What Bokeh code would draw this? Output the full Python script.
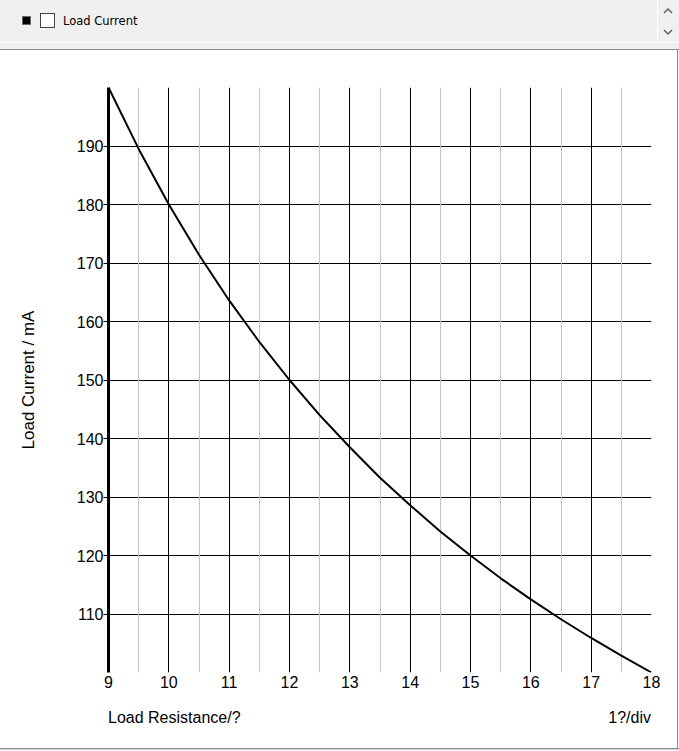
from bokeh.plotting import figure
from bokeh.models import Range1d, FixedTicker, Grid, Div
from bokeh.layouts import column, row
from bokeh.embed import file_html
from bokeh.resources import INLINE

# ---- data ----
resistance = [9, 9.5, 10, 10.5, 11, 11.5, 12, 12.5, 13, 13.5, 14, 14.5, 15, 15.5, 16, 16.5, 17, 17.5, 18]
current = [200, 189.5, 180, 171.4, 163.6, 156.5, 150, 144, 138.5, 133.3, 128.6, 124.1, 120, 116.1, 112.5, 109.1, 105.9, 102.9, 100]
x_major = [9, 10, 11, 12, 13, 14, 15, 16, 17, 18]
x_minor = [9.5, 10.5, 11.5, 12.5, 13.5, 14.5, 15.5, 16.5, 17.5]
y_major = [110, 120, 130, 140, 150, 160, 170, 180, 190]
x_limits = [9, 18]
y_limits = [100, 200]
series_name = "Load Current"
x_title = "Load Resistance/?"
x_scale_note = "1?/div"
y_title = "Load Current / mA"

FONT = "Liberation Sans"
BORDER = "#8a8a8a"

# ---- header (legend bar) ----
header_html = f"""
<div style="position:relative;width:679px;height:50px;background:#ffffff;font-family:'DejaVu Sans';overflow:hidden;">
  <div style="position:absolute;left:0;top:0;width:679px;height:42px;background:#f0f0f0;"></div>
  <div style="position:absolute;left:0;top:43px;width:679px;height:6px;background:#f0f0f0;"></div>
  <div style="position:absolute;left:657px;top:0;width:1px;height:42px;background:#ffffff;"></div>
  <div style="position:absolute;left:22px;top:16px;width:9px;height:9px;background:#000;border:1px solid #666;"></div>
  <div style="position:absolute;left:40px;top:13px;width:15px;height:15px;background:#fff;border:1px solid #444;"></div>
  <div style="position:absolute;left:63px;top:14px;font-size:11.5px;color:#000;line-height:15px;white-space:nowrap;">{series_name}</div>
  <svg style="position:absolute;left:662px;top:5px;" width="12" height="32">
    <polyline points="2,8 6,4 10,8" fill="none" stroke="#606060" stroke-width="1.5"/>
    <polyline points="2,25 6,29 10,25" fill="none" stroke="#606060" stroke-width="1.5"/>
  </svg>
  <div style="position:absolute;left:0;top:49px;width:679px;height:1px;background:{BORDER};"></div>
</div>
"""
header = Div(text=header_html, width=679, height=50, margin=(0, 0, 0, 0))

# ---- chart ----
p = figure(width=677, height=647, output_backend="svg", toolbar_location=None,
           x_range=Range1d(*x_limits), y_range=Range1d(*y_limits),
           min_border_left=108, min_border_right=26, min_border_top=37, min_border_bottom=25,
           margin=(0, 0, 0, 0))
p.background_fill_color = "white"
p.border_fill_color = "white"
p.outline_line_color = None

p.xgrid.ticker = FixedTicker(ticks=x_major)
p.xgrid.grid_line_color = "black"
p.xgrid.grid_line_width = 1
p.ygrid.ticker = FixedTicker(ticks=y_major)
p.ygrid.grid_line_color = "black"
p.ygrid.grid_line_width = 1
p.add_layout(Grid(dimension=0, ticker=FixedTicker(ticks=x_minor), grid_line_color="#c4c4c4", grid_line_width=1))

xa = p.xaxis[0]
xa.ticker = FixedTicker(ticks=x_major)
xa.axis_line_color = None
xa.major_tick_line_color = None
xa.minor_tick_line_color = None
xa.major_tick_out = 0
xa.major_tick_in = 0
xa.major_label_standoff = 3
xa.major_label_text_font = FONT
xa.major_label_text_font_size = "16px"
xa.major_label_text_color = "black"

ya = p.yaxis[0]
ya.ticker = FixedTicker(ticks=y_major)
ya.axis_line_color = "black"
ya.axis_line_width = 3
ya.major_tick_line_color = "black"
ya.major_tick_out = 5
ya.major_tick_in = 0
ya.minor_tick_line_color = None
ya.major_label_standoff = 0
ya.major_label_text_font = FONT
ya.major_label_text_font_size = "16px"
ya.major_label_text_color = "black"
ya.axis_label = y_title
ya.axis_label_text_font = FONT
ya.axis_label_text_font_size = "17px"
ya.axis_label_text_font_style = "normal"
ya.axis_label_text_color = "black"
ya.axis_label_standoff = 36

p.line(resistance, current, line_color="black", line_width=2)

right_edge = Div(text=f'<div style="width:2px;height:647px;background:#ffffff;border-left:1px solid {BORDER};box-sizing:border-box;"></div>',
                 width=2, height=647, margin=(0, 0, 0, 0))

# ---- footer (x-axis captions) ----
footer_html = f"""
<div style="position:relative;width:679px;height:53px;background:#ffffff;font-family:'{FONT}';overflow:hidden;">
  <div style="position:absolute;left:677px;top:0;width:1px;height:51px;background:{BORDER};"></div>
  <div style="position:absolute;left:108px;top:12px;font-size:16px;line-height:18px;color:#000;white-space:nowrap;">{x_title}</div>
  <div style="position:absolute;right:28px;top:12px;font-size:16px;line-height:18px;color:#000;white-space:nowrap;">{x_scale_note}</div>
  <div style="position:absolute;left:0;top:51px;width:679px;height:1px;background:{BORDER};"></div>
  <div style="position:absolute;left:0;top:52px;width:679px;height:1px;background:#d4d4d4;"></div>
</div>
"""
footer = Div(text=footer_html, width=679, height=53, margin=(0, 0, 0, 0))

layout = column(header, row(p, right_edge, spacing=0), footer, spacing=0)
open("out.html", "w").write(file_html(layout, INLINE))
